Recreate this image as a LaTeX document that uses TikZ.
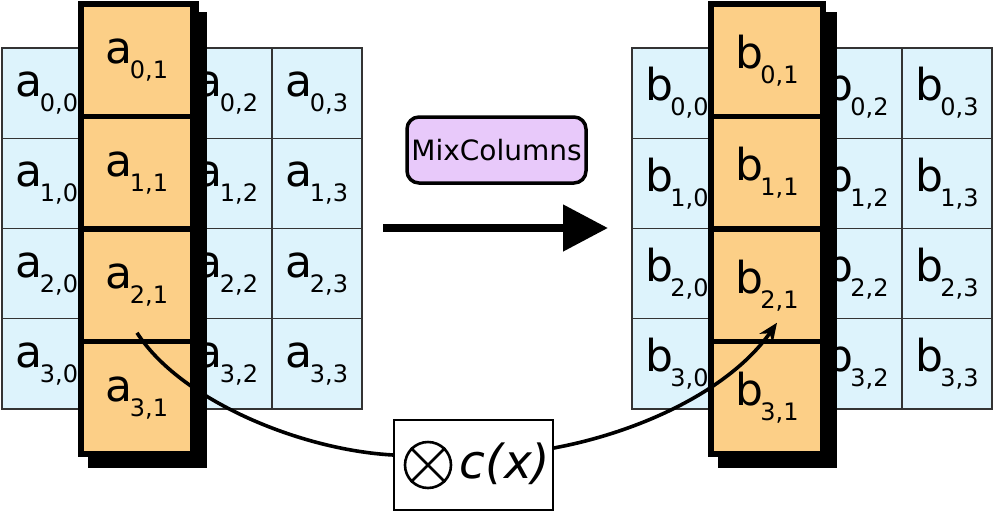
\documentclass[tikz,border=0pt]{standalone}
\usepackage{fontspec}
\setmainfont{DejaVu Sans}
\usetikzlibrary{arrows.meta,calc}
\definecolor{cellblue}{RGB}{221,243,252}
\definecolor{cellorange}{RGB}{252,207,135}
\definecolor{boxpurple}{RGB}{232,201,250}
\newcommand{\ent}[3]{{\fontsize{44}{44}\selectfont #1}\kern-3pt\raisebox{-15pt}{\fontsize{24}{24}\selectfont #2,#3}}
\begin{document}
\begin{tikzpicture}[x=1pt,y=-1pt,
  bluecell/.style={rectangle, draw=black!80, line width=1.3pt, fill=cellblue, minimum size=90.25pt, inner sep=0pt},
  orangecell/.style={rectangle, draw=black, line width=5.5pt, fill=cellorange, minimum width=112pt, minimum height=112.5pt, inner sep=0pt},
  colborder/.style={line width=5.5pt},
  curve/.style={line width=3.6pt},
  mixbox/.style={draw, line width=3.5pt, rounded corners=12pt, fill=boxpurple, minimum width=179pt, minimum height=66pt, inner sep=0pt, font=\fontsize{28}{28}\selectfont},
  multbox/.style={draw, line width=1.6pt, fill=white, minimum width=159pt, minimum height=90pt, inner sep=0pt},
]
\useasboundingbox (0,0) rectangle (994,512);

% blue state grids
\foreach \r in {0,...,3}{
  \foreach \c in {0,2,3}{
    \node[bluecell] (a\r\c) at (47+90*\c, 93.125+90.25*\r) {\ent{a}{\r}{\c}};
    \node[bluecell] (b\r\c) at (677+90*\c, 93.125+90.25*\r) {\ent{b}{\r}{\c}};
  }
}

% orange columns
\foreach \r in {0,...,3}{
  \node[orangecell] (a\r1) at (137, 60.25+112.5*\r) {\ent{a}{\r}{1}};
  \node[orangecell] (b\r1) at (767, 60.25+112.5*\r) {\ent{b}{\r}{1}};
}

% MixColumns label and arrow
\node[mixbox] (mix) at (496.5,150) {MixColumns};
\coordinate (arS) at (383,228);
\coordinate (arE) at (608,228);
\draw[line width=8pt, -{Triangle[length=45pt,width=45pt]}] (arS) -- (arE);

% multiplication box
\node[multbox] (cx) at (473.5,465) {};
\node[circle, draw, line width=2.6pt, minimum size=46pt, inner sep=0pt] (ot) at (428,465) {};
\draw[line width=2.6pt] (ot.north west) -- (ot.south east);
\draw[line width=2.6pt] (ot.north east) -- (ot.south west);
\node[inner sep=0pt, font=\fontsize{47}{47}\selectfont\itshape] (cxt) at (505,464) {c(x)};

% curved connector
\coordinate (cstart) at ($(a21.south)+(0,-11.5)$);
\coordinate (cend) at ($(b21.south)+(10,-21.5)$);
\draw[curve] (cstart) .. controls (180,400) and (300,450) .. ($(cx.west)+(0,-10)$);
\draw[curve, -{Stealth[length=19pt,width=16pt]}] ($(cx.east)+(0,-17)$) .. controls (640,432) and (730,390) .. (cend);

% right border of left column over the curve
\draw[colborder] (a01.north east) -- (a31.south east);

% shadows
\fill (196,12) rectangle (207,468);
\fill (88,457) rectangle (207,468);
\fill (826,12) rectangle (837,468);
\fill (718,457) rectangle (837,468);
\end{tikzpicture}
\end{document}
